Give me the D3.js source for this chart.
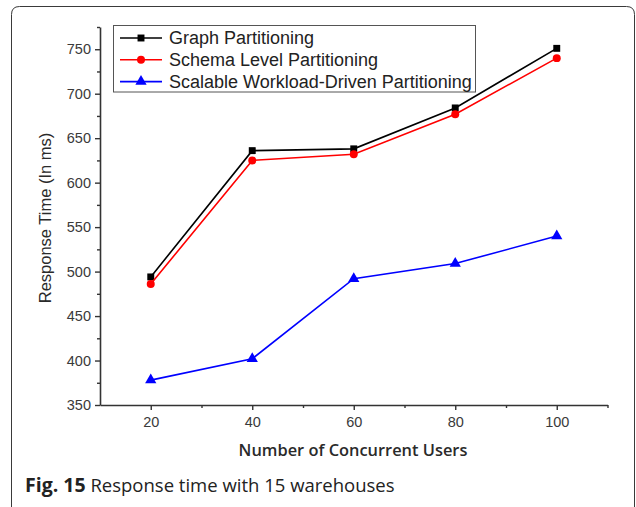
<!DOCTYPE html>
<html>
<head>
<meta charset="utf-8">
<script src="https://cdn.jsdelivr.net/npm/d3@7"></script>
<style>
  html, body { margin: 0; padding: 0; background: #fff; }
  svg { display: block; }
</style>
</head>
<body>
<svg id="chart" width="636" height="507"></svg>
<script>
// Concurrent users on the x axis
const users = [20, 40, 60, 80, 100];

// Response time (ms) per partitioning scheme
const graphPartitioning = [494, 636, 638, 684, 751];
const schemaLevelPartitioning = [486, 625, 632, 677, 740];
const workloadDrivenPartitioning = [378, 402, 492, 509, 540];

const seriesNames = [
  "Graph Partitioning",
  "Schema Level Partitioning",
  "Scalable Workload-Driven Partitioning"
];

const xTicks = [20, 40, 60, 80, 100];
const xMinorTicks = [30, 50, 70, 90, 110];
const yTicks = [350, 400, 450, 500, 550, 600, 650, 700, 750];
const yMinorTicks = [375, 425, 475, 525, 575, 625, 675, 725, 775];

const series = [
  { name: seriesNames[0], values: graphPartitioning, color: "#000000", symbol: d3.symbolSquare, size: 48 },
  { name: seriesNames[1], values: schemaLevelPartitioning, color: "#ff0000", symbol: d3.symbolCircle, size: 50 },
  { name: seriesNames[2], values: workloadDrivenPartitioning, color: "#0000ff", symbol: d3.symbolTriangle, size: 55 }
];

const svg = d3.select("#chart");

// Figure frame (open at the bottom edge)
svg.append("path")
  .attr("d", "M11.5,520 L11.5,14.5 Q11.5,6.5 19.5,6.5 L626.5,6.5 Q634.5,6.5 634.5,14.5 L634.5,520")
  .attr("fill", "none")
  .attr("stroke", "#3a3a3a")
  .attr("stroke-width", 1);

const x = d3.scaleLinear().domain([10, 110]).range([100, 607.5]);
const y = d3.scaleLinear().domain([350, 775]).range([405, 27]);

const axisColor = "#333";
const tickFont = "Arial, 'Liberation Sans', sans-serif";

// Bottom axis
const xAxis = svg.append("g")
  .attr("transform", `translate(0,${y(350)})`)
  .call(d3.axisBottom(x).tickValues(xTicks).tickSize(5).tickPadding(7).tickSizeOuter(0));
xAxis.append("g")
  .call(d3.axisBottom(x).tickValues(xMinorTicks).tickSize(3).tickFormat("").tickSizeOuter(0))
  .select(".domain").remove();

// Left axis
const yAxis = svg.append("g")
  .attr("transform", `translate(${x(10)},0)`)
  .call(d3.axisLeft(y).tickValues(yTicks).tickSize(5).tickPadding(4).tickSizeOuter(0));
yAxis.append("g")
  .call(d3.axisLeft(y).tickValues(yMinorTicks).tickSize(3).tickFormat("").tickSizeOuter(0))
  .select(".domain").remove();

[xAxis, yAxis].forEach(g => {
  g.selectAll(".domain").attr("stroke", axisColor).attr("stroke-width", 1.6);
  g.selectAll(".tick line").attr("stroke", axisColor).attr("stroke-width", 1.4);
  g.selectAll(".tick text")
    .attr("fill", "#3a3a3a")
    .style("font-family", tickFont)
    .style("font-size", "14.5px");
});

// Axis titles
svg.append("text")
  .attr("transform", `translate(51,${(y(350) + y(775)) / 2 + 2}) rotate(-90)`)
  .attr("text-anchor", "middle")
  .attr("fill", "#2a2a2a")
  .style("font-family", tickFont)
  .style("font-size", "16.5px")
  .text("Response Time (In ms)");

svg.append("text")
  .attr("x", 353)
  .attr("y", 456)
  .attr("text-anchor", "middle")
  .attr("fill", "#2a2a2a")
  .style("font-family", "'Open Sans', 'Noto Sans', sans-serif")
  .style("font-weight", 600)
  .style("font-size", "16.4px")
  .text("Number of Concurrent Users");

// Lines and markers
const line = d3.line().x((d, i) => x(users[i])).y(d => y(d));

series.forEach(s => {
  svg.append("path")
    .datum(s.values)
    .attr("d", line)
    .attr("fill", "none")
    .attr("stroke", s.color)
    .attr("stroke-width", 1.6);
  svg.append("g").selectAll("path")
    .data(s.values)
    .join("path")
    .attr("transform", (d, i) => `translate(${x(users[i])},${y(d)})`)
    .attr("d", d3.symbol().type(s.symbol).size(s.size))
    .attr("fill", s.color);
});

// Legend
const legend = svg.append("g");
legend.append("rect")
  .attr("x", 113.5).attr("y", 25.5)
  .attr("width", 362).attr("height", 66.5)
  .attr("fill", "#fff")
  .attr("stroke", "#555")
  .attr("stroke-width", 1);

series.forEach((s, i) => {
  const cy = 38 + i * 21.8;
  legend.append("line")
    .attr("x1", 120).attr("x2", 162)
    .attr("y1", cy).attr("y2", cy)
    .attr("stroke", s.color).attr("stroke-width", 1.6);
  legend.append("path")
    .attr("transform", `translate(141,${cy})`)
    .attr("d", d3.symbol().type(s.symbol).size(s.size))
    .attr("fill", s.color);
  legend.append("text")
    .attr("x", 169)
    .attr("y", cy + 6)
    .attr("fill", "#222")
    .style("font-family", tickFont)
    .style("font-size", "18px")
    .text(s.name);
});

// Caption
const caption = svg.append("text")
  .attr("x", 25)
  .attr("y", 492)
  .attr("fill", "#222")
  .style("font-family", "'Open Sans', 'Noto Sans', sans-serif")
  .style("font-size", "18.5px");
caption.append("tspan").style("font-weight", 700).style("font-size", "19.5px").text("Fig. 15");
caption.append("tspan").text(" Response time with 15 warehouses");
</script>
</body>
</html>
